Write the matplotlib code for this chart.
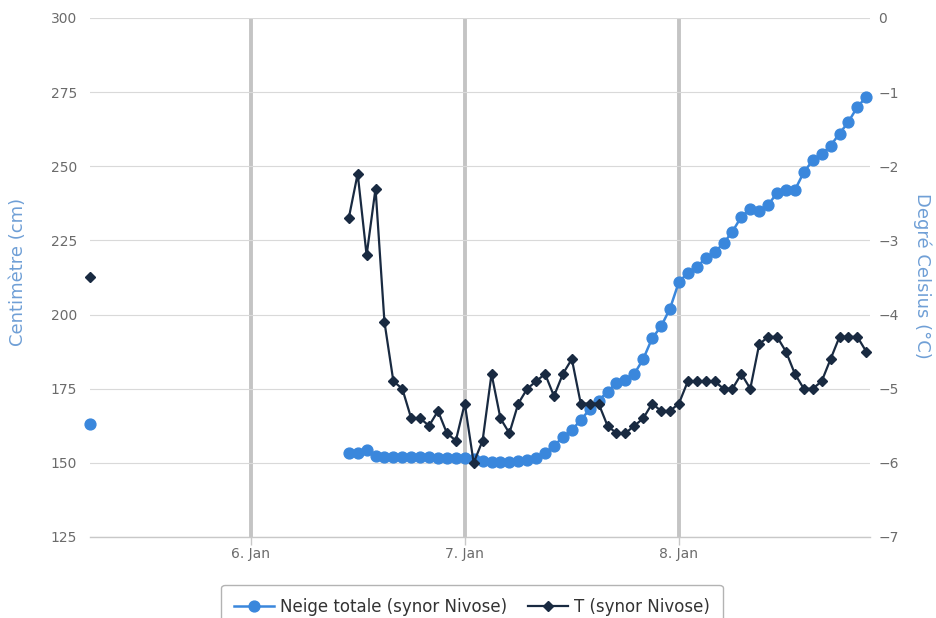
import numpy as np
import pandas as pd
import matplotlib
matplotlib.use("Agg")
import matplotlib.pyplot as plt

# lone reading on the 5th, then hourly readings from the 6th 11:00
first_time = pd.Timestamp("2015-01-05 06:00")
first_snow = 163
first_temp = -3.5

times = pd.date_range("2015-01-06 11:00", periods=59, freq="h")
snow = [153.3, 153.3, 154.3, 152.3, 152, 152, 152, 152, 152, 152,
        151.8, 151.5, 151.8, 151.7, 151.3, 150.5, 150.3, 150.3, 150.3, 150.5,
        151, 151.6, 153.3, 155.7, 158.7, 161, 164.5, 168, 171, 174,
        177, 178, 180, 185, 192, 196, 202, 211, 214, 216,
        219, 221, 224, 228, 233, 235.5, 235, 237, 241, 242,
        242, 248, 252, 254, 257, 261, 265, 270, 273.4]
temp = [-2.7, -2.1, -3.2, -2.3, -4.1, -4.9, -5.0, -5.4, -5.4, -5.5,
        -5.3, -5.6, -5.7, -5.2, -6.0, -5.7, -4.8, -5.4, -5.6, -5.2,
        -5.0, -4.9, -4.8, -5.1, -4.8, -4.6, -5.2, -5.2, -5.2, -5.5,
        -5.6, -5.6, -5.5, -5.4, -5.2, -5.3, -5.3, -5.2, -4.9, -4.9,
        -4.9, -4.9, -5.0, -5.0, -4.8, -5.0, -4.4, -4.3, -4.3, -4.5,
        -4.8, -5.0, -5.0, -4.9, -4.6, -4.3, -4.3, -4.3, -4.5]

snow_ticks = [125, 150, 175, 200, 225, 250, 275, 300]
temp_ticks = [-7, -6, -5, -4, -3, -2, -1, 0]
day_ticks = pd.to_datetime(["2015-01-06", "2015-01-07", "2015-01-08"])
day_labels = ["6. Jan", "7. Jan", "8. Jan"]

snow_color = "#3a87dc"
temp_color = "#192a41"
label_color = "#6f9fd6"
tick_color = "#6b6b6b"

plt.rcParams["font.family"] = ["DejaVu Sans"]

fig = plt.figure(figsize=(9.37, 6.18), dpi=100)
ax = fig.add_axes([90 / 937, 1 - 537 / 618, 780 / 937, 519 / 618])
ax2 = ax.twinx()

# gap between the lone reading and the hourly series
x_all = [first_time, first_time + pd.Timedelta(hours=1)] + list(times)
snow_all = [first_snow, np.nan] + snow
temp_all = [first_temp, np.nan] + temp

ax.plot(x_all, snow_all, color=snow_color, lw=1.8, marker="o", ms=7.8,
        clip_on=False, zorder=3, label="Neige totale (synor Nivose)")
ax2.plot(x_all, temp_all, color=temp_color, lw=1.6, marker="D", ms=5.0,
         clip_on=False, zorder=3, label="T (synor Nivose)")

ax.set_xlim(first_time, pd.Timestamp("2015-01-08 21:25"))
ax.set_ylim(125, 300)
ax2.set_ylim(-7, 0)
ax.set_yticks(snow_ticks)
ax2.set_yticks(temp_ticks)

ax.set_xticks(day_ticks)
ax.set_xticklabels(day_labels)

ax.grid(axis="y", color="#d9d9d9", lw=0.8)
ax.grid(axis="x", color="#c4c4c4", lw=2.8)
ax.set_axisbelow(True)

for a in (ax, ax2):
    for side in ("top", "left", "right", "bottom"):
        a.spines[side].set_visible(False)
ax.spines["bottom"].set_visible(True)
ax.spines["bottom"].set_color("#c8c8c8")
ax.spines["bottom"].set_linewidth(1)

ax.tick_params(axis="y", length=0, pad=9.5, labelsize=10, labelcolor=tick_color)
ax2.tick_params(axis="y", length=0, pad=6, labelsize=10, labelcolor=tick_color)
ax.tick_params(axis="x", length=6, width=1, color="#c8c8c8", pad=1.5,
               labelsize=10, labelcolor=tick_color)

fig.text(18 / 937, 1 - 272 / 618, "Centimètre (cm)", rotation=90,
         ha="center", va="center", fontsize=13, color=label_color)
fig.text(922 / 937, 1 - 276 / 618, "Degré Celsius (°C)", rotation=270,
         ha="center", va="center", fontsize=13, color=label_color)

h1, l1 = ax.get_legend_handles_labels()
h2, l2 = ax2.get_legend_handles_labels()
leg = fig.legend(h1 + h2, l1 + l2, loc="upper center",
                 bbox_to_anchor=(472 / 937, 1 - 585 / 618), ncol=2,
                 fontsize=12, frameon=True, fancybox=True, handlelength=2.4,
                 columnspacing=1.3, handletextpad=0.35, borderpad=0.75,
                 borderaxespad=0)
leg.get_frame().set_edgecolor("#a0a0a0")
leg.get_frame().set_linewidth(1)
for t in leg.get_texts():
    t.set_color("#333333")

fig.savefig("out.png", dpi=100)
